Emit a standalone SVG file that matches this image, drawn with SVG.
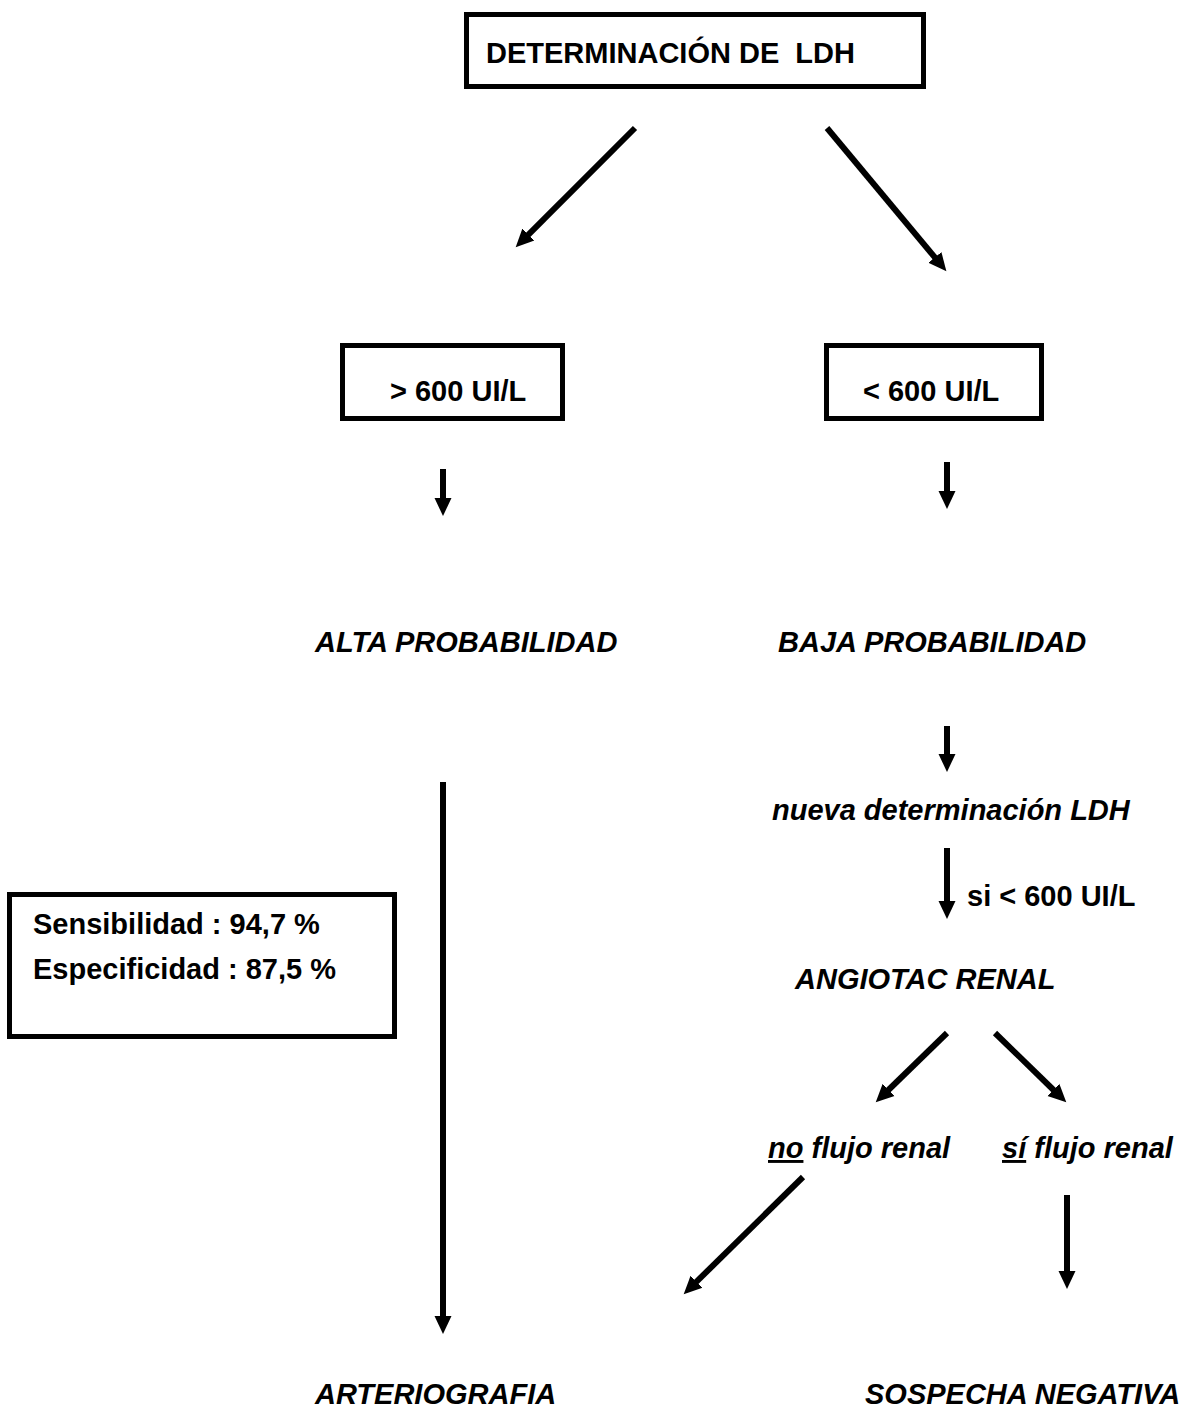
<svg xmlns="http://www.w3.org/2000/svg" width="1190" height="1415" viewBox="0 0 1190 1415">
<style>
.box{fill:#fff;stroke:#000;stroke-width:5}
.t{font-family:"Liberation Sans",Arial,sans-serif;font-weight:bold;font-size:29px;fill:#000}
.i{font-style:italic}
.c{fill:none;stroke:#000;stroke-width:6}
.u{text-decoration:underline}
</style>
<defs>
<marker id="ah" markerUnits="userSpaceOnUse" markerWidth="22" markerHeight="22" viewBox="0 -11 22 22" refX="1" refY="0" orient="auto">
<path d="M0,-8.5 L18,0 L0,8.5 Z" fill="#000"/>
</marker>
</defs>
<rect width="1190" height="1415" fill="#fff"/>
<g id="connectors">
<line class="c" x1="635" y1="128" x2="527.7" y2="235.3" marker-end="url(#ah)"/>
<line class="c" x1="827" y1="128" x2="935.5" y2="258.2" marker-end="url(#ah)"/>
<line class="c" x1="443" y1="469" x2="443" y2="499" marker-end="url(#ah)"/>
<line class="c" x1="947" y1="462" x2="947" y2="492" marker-end="url(#ah)"/>
<line class="c" x1="947" y1="726" x2="947" y2="755" marker-end="url(#ah)"/>
<line class="c" x1="947" y1="848" x2="947" y2="902" marker-end="url(#ah)"/>
<line class="c" x1="947" y1="1033" x2="887.9" y2="1090.5" marker-end="url(#ah)"/>
<line class="c" x1="995" y1="1033" x2="1054.1" y2="1090.5" marker-end="url(#ah)"/>
<line class="c" x1="803" y1="1177" x2="695.8" y2="1282.4" marker-end="url(#ah)"/>
<line class="c" x1="1067" y1="1195" x2="1067" y2="1272" marker-end="url(#ah)"/>
<line class="c" x1="443" y1="782" x2="443" y2="1317" marker-end="url(#ah)"/>
</g>
<g id="n-ldh">
<rect class="box" x="466.5" y="14.5" width="457" height="72"/>
<text class="t" x="486" y="63" style="white-space:pre">DETERMINACIÓN DE  LDH</text>
</g>
<g id="n-mayor">
<rect class="box" x="342.5" y="345.5" width="220" height="73"/>
<text class="t" x="390" y="401">&gt; 600 UI/L</text>
</g>
<g id="n-menor">
<rect class="box" x="826.5" y="345.5" width="215" height="73"/>
<text class="t" x="863" y="401">&lt; 600 UI/L</text>
</g>
<g id="n-alta">
<text class="t i" x="315" y="652">ALTA PROBABILIDAD</text>
</g>
<g id="n-baja">
<text class="t i" x="778" y="652">BAJA PROBABILIDAD</text>
</g>
<g id="n-nueva">
<text class="t i" x="772" y="820">nueva determinación LDH</text>
</g>
<g id="l-si">
<text class="t" x="967" y="906">si &lt; 600 UI/L</text>
</g>
<g id="n-angiotac">
<text class="t i" x="795" y="989">ANGIOTAC RENAL</text>
</g>
<g id="n-noflujo">
<text class="t i" x="768" y="1158"><tspan class="u">no</tspan> flujo renal</text>
</g>
<g id="n-siflujo">
<text class="t i" x="1002" y="1158"><tspan class="u">sí</tspan> flujo renal</text>
</g>
<g id="n-stats">
<rect class="box" x="9.5" y="894.5" width="385" height="142"/>
<text class="t" x="33" y="934">Sensibilidad : 94,7 %</text>
<text class="t" x="33" y="979">Especificidad : 87,5 %</text>
</g>
<g id="n-arterio">
<text class="t i" x="315" y="1404">ARTERIOGRAFIA</text>
</g>
<g id="n-sospecha">
<text class="t i" x="865" y="1404">SOSPECHA NEGATIVA</text>
</g>
</svg>
